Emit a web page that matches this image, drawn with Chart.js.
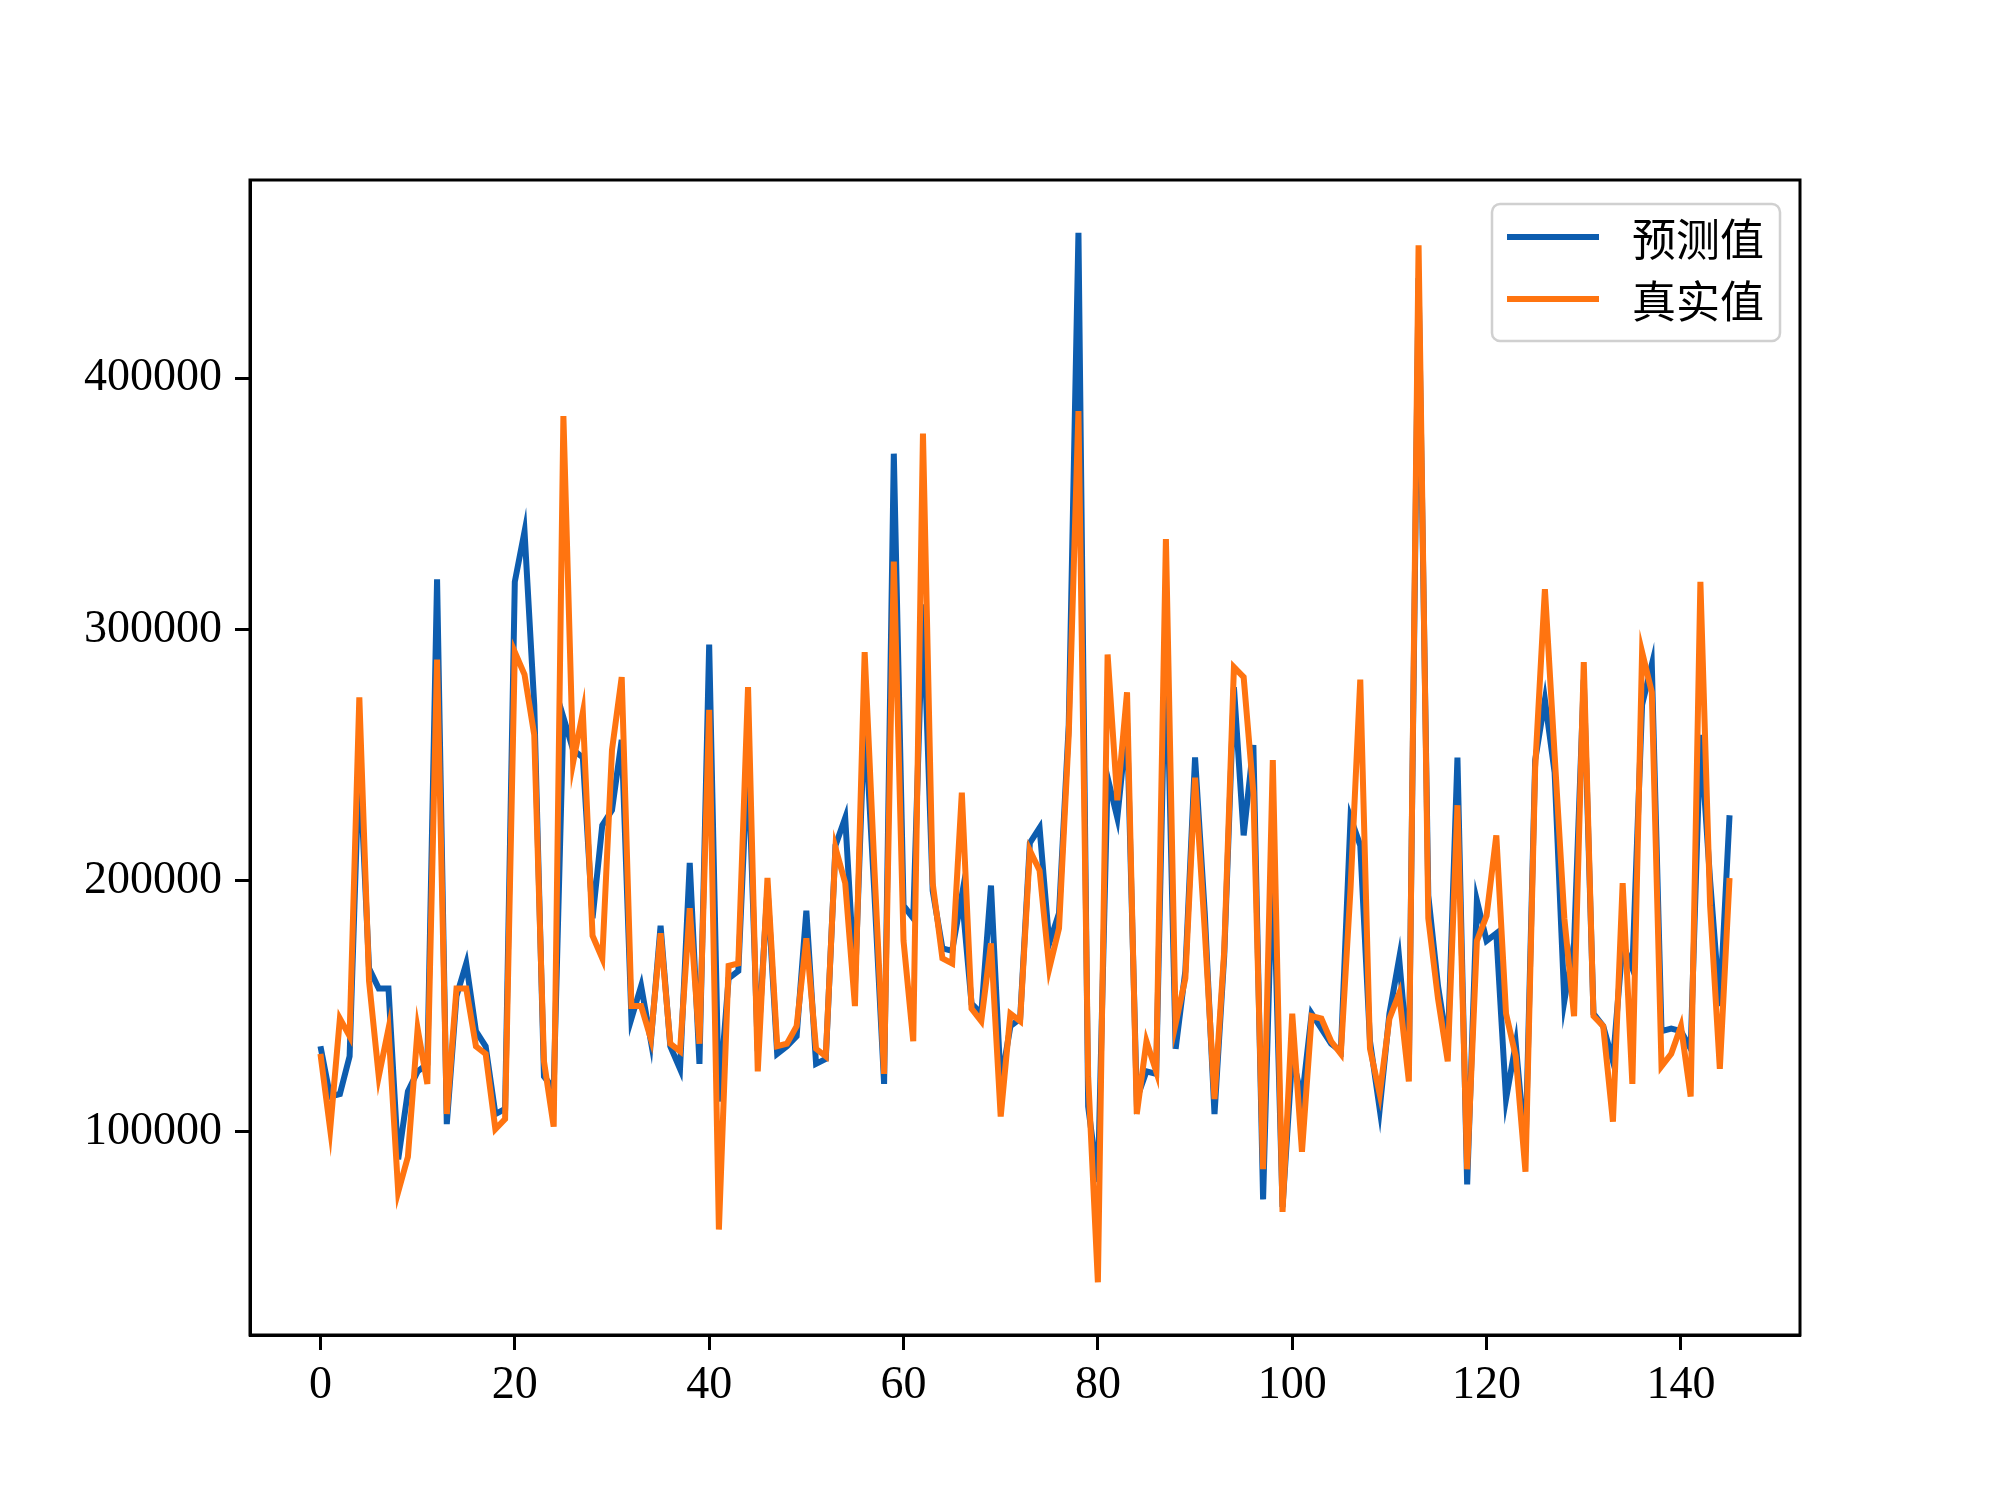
<!DOCTYPE html>
<html>
<head>
<meta charset="utf-8">
<script src="https://cdn.jsdelivr.net/npm/chart.js@4.4.1/dist/chart.umd.min.js"></script>
<style>
  html, body { margin: 0; padding: 0; background: #ffffff; }
  #wrap { width: 2000px; height: 1500px; }
</style>
</head>
<body>
<div id="wrap"><canvas id="predChart" width="2000" height="1500"></canvas></div>
<script>
// 预测值 (blue) and 真实值 (orange), one value per sample index 0..145
const predicted = [
  134000, 114000, 115000, 130000, 250000, 165000, 157000, 157000, 89000, 116000,
  124000, 127000, 320000, 103000, 154000, 167000, 140000, 134000, 107000, 109000,
  319000, 339000, 270000, 122000, 117000, 265000, 252000, 249000, 185000, 222000,
  228000, 256000, 145000, 158000, 136000, 182000, 134000, 125000, 207000, 127000,
  294000, 112000, 161000, 164000, 251000, 132000, 197000, 131000, 134000, 138000,
  188000, 127000, 129000, 214000, 225000, 158000, 266000, 195000, 119000, 370000,
  190000, 185000, 310000, 196000, 173000, 172000, 194000, 151000, 147000, 198000,
  119000, 142000, 145000, 215000, 221000, 175000, 187000, 262000, 458000, 110000,
  80000, 241000, 225000, 263000, 113000, 124000, 123000, 300000, 133000, 164000,
  249000, 187000, 107000, 170000, 277000, 218000, 254000, 73000, 212000, 70000,
  130000, 113000, 147000, 141000, 135000, 132000, 225000, 214000, 136000, 109000,
  147000, 169000, 125000, 440000, 194000, 158000, 133000, 249000, 79000, 192000,
  176000, 179000, 113000, 135000, 92000, 248000, 272000, 243000, 152000, 175000,
  280000, 147000, 142000, 128000, 175000, 165000, 270000, 286000, 140000, 141000,
  140000, 133000, 258000, 200000, 150000, 226000
];
const actual = [
  131000, 101000, 145000, 138000, 273000, 160000, 122000, 141000, 76000, 90000,
  141000, 119000, 288000, 107000, 157000, 157000, 134000, 131000, 101000, 105000,
  291000, 282000, 258000, 128000, 102000, 385000, 247000, 267000, 178000, 169000,
  252000, 281000, 150000, 150000, 137000, 179000, 135000, 132000, 189000, 135000,
  268000, 61000, 166000, 167000, 277000, 124000, 201000, 134000, 135000, 142000,
  177000, 133000, 130000, 213000, 199000, 150000, 291000, 205000, 123000, 327000,
  176000, 136000, 378000, 199000, 169000, 167000, 235000, 149000, 144000, 175000,
  106000, 147000, 144000, 212000, 204000, 165000, 181000, 258000, 387000, 122000,
  40000, 290000, 232000, 275000, 107000, 136000, 124000, 336000, 143000, 161000,
  241000, 180000, 113000, 172000, 285000, 281000, 235000, 85000, 248000, 68000,
  147000, 92000, 146000, 145000, 136000, 131000, 197000, 280000, 133000, 115000,
  145000, 155000, 120000, 453000, 185000, 153000, 128000, 230000, 85000, 176000,
  186000, 218000, 147000, 130000, 84000, 245000, 316000, 250000, 185000, 146000,
  287000, 146000, 142000, 104000, 199000, 119000, 291000, 275000, 126000, 131000,
  142000, 114000, 319000, 190000, 125000, 201000
];
const xTicks = [0, 20, 40, 60, 80, 100, 120, 140];
const yTicks = [100000, 200000, 300000, 400000];
const seriesNames = ["预测值", "真实值"];

const BLUE = "#0d5daf";
const ORANGE = "#ff7410";
const tickFont = { family: "'Liberation Serif', 'Times New Roman', serif", size: 46 };

// top and right spines, chart.js only draws the axis borders
const frame = {
  id: "frame",
  afterDraw(chart) {
    const { ctx, chartArea: a } = chart;
    ctx.save();
    ctx.strokeStyle = "#000000";
    ctx.lineWidth = 3;
    ctx.strokeRect(a.left, a.top, a.right - a.left, a.bottom - a.top);
    ctx.restore();
  },
};

// matplotlib style legend box in the upper right corner
const boxLegend = {
  id: "boxLegend",
  afterDraw(chart) {
    const ctx = chart.ctx;
    const a = chart.chartArea;
    const w = 288, h = 137;
    const x = a.right - 20 - w;
    const y = a.top + 24;
    ctx.save();
    ctx.beginPath();
    ctx.roundRect(x, y, w, h, 8);
    ctx.fillStyle = "rgba(255,255,255,0.85)";
    ctx.fill();
    ctx.lineWidth = 2.5;
    ctx.strokeStyle = "#d0d0d0";
    ctx.stroke();
    ctx.font = "44px 'Noto Sans CJK SC'";
    ctx.textBaseline = "middle";
    ctx.textAlign = "left";
    chart.data.datasets.slice().sort((p, q) => p.legendIdx - q.legendIdx).forEach((ds, i) => {
      const ly = y + 33 + i * 62;
      ctx.beginPath();
      ctx.moveTo(x + 15, ly);
      ctx.lineTo(x + 107, ly);
      ctx.strokeStyle = ds.borderColor;
      ctx.lineWidth = 6;
      ctx.stroke();
      ctx.fillStyle = "#000000";
      ctx.fillText(ds.label, x + 140, ly + 2);
    });
    ctx.restore();
  },
};

const labels = predicted.map((_, i) => i);

new Chart(document.getElementById("predChart"), {
  type: "line",
  data: {
    datasets: [
      {
        label: seriesNames[0],
        legendIdx: 0,
        data: predicted.map((v, i) => ({ x: labels[i], y: v })),
        borderColor: BLUE,
        borderWidth: 6,
        pointRadius: 0,
        tension: 0,
        order: 2,
      },
      {
        label: seriesNames[1],
        legendIdx: 1,
        data: actual.map((v, i) => ({ x: labels[i], y: v })),
        borderColor: ORANGE,
        borderWidth: 6,
        pointRadius: 0,
        tension: 0,
        order: 1,
      },
    ],
  },
  options: {
    responsive: false,
    animation: false,
    devicePixelRatio: 1,
    layout: { padding: { top: 180, right: 200, left: 0, bottom: 0 } },
    plugins: {
      legend: { display: false },
      tooltip: { enabled: false },
    },
    scales: {
      x: {
        type: "linear",
        min: -7.25,
        max: 152.25,
        afterBuildTicks: (scale) => {
          scale.ticks = xTicks.map((v) => ({ value: v }));
        },
        afterFit: (scale) => {
          scale.height = 165;
        },
        grid: {
          drawOnChartArea: false,
          drawTicks: true,
          tickLength: 15,
          tickWidth: 3,
          tickColor: "#000000",
        },
        border: { display: true, color: "#000000", width: 3 },
        ticks: {
          font: tickFont,
          color: "#000000",
          padding: 8,
          maxRotation: 0,
          autoSkip: false,
        },
      },
      y: {
        type: "linear",
        min: 19000,
        max: 479000,
        afterBuildTicks: (scale) => {
          scale.ticks = yTicks.map((v) => ({ value: v }));
        },
        afterFit: (scale) => {
          scale.width = 250;
        },
        grid: {
          drawOnChartArea: false,
          drawTicks: true,
          tickLength: 15,
          tickWidth: 3,
          tickColor: "#000000",
        },
        border: { display: true, color: "#000000", width: 3 },
        ticks: {
          font: tickFont,
          color: "#000000",
          padding: 13,
          callback: (v) => String(v),
        },
      },
    },
  },
  plugins: [frame, boxLegend],
});
</script>
</body>
</html>
